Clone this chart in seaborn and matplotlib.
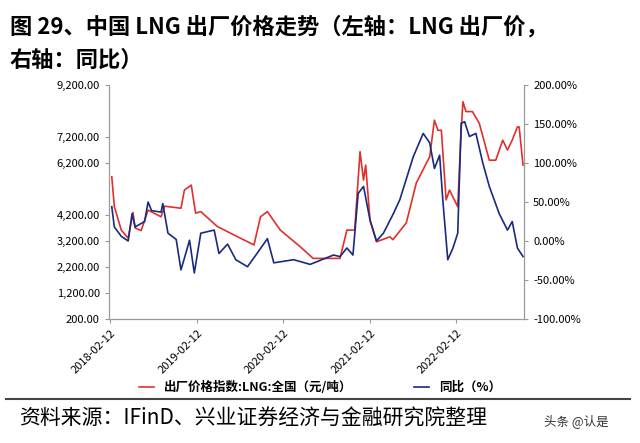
import numpy as np
import pandas as pd
import seaborn as sns
import matplotlib.pyplot as plt
import matplotlib.dates as mdates
from matplotlib.ticker import FuncFormatter

plt.rcParams['font.family'] = ['Noto Sans CJK SC', 'DejaVu Sans']

# LNG ex-factory price (yuan/ton), x in fractional years
price_t = [2018.13, 2018.16, 2018.24, 2018.32, 2018.375, 2018.40, 2018.47, 2018.55, 2018.70, 2018.74,
           2018.93, 2018.97, 2019.05, 2019.10, 2019.16, 2019.35, 2019.545, 2019.775, 2019.85, 2019.93,
           2020.08, 2020.31, 2020.46, 2020.77, 2020.85, 2020.94, 2021.0, 2021.04, 2021.065, 2021.115,
           2021.19, 2021.345, 2021.38, 2021.535, 2021.65, 2021.805, 2021.86, 2021.90, 2021.94, 2021.995,
           2022.035, 2022.13, 2022.17, 2022.19, 2022.225, 2022.30, 2022.38, 2022.495, 2022.57, 2022.65,
           2022.705, 2022.76, 2022.82, 2022.84, 2022.885]
price = [5673, 4520, 3620, 3310, 4300, 3700, 3600, 4390, 4130, 4540,
         4460, 5160, 5350, 4270, 4330, 3760, 3430, 3050, 4130, 4330,
         3620, 2980, 2530, 2530, 3620, 3620, 6640, 5540, 6120, 4000,
         3170, 3360, 3250, 3900, 5430, 6440, 7850, 7460, 7460, 4780,
         5160, 4520, 7460, 8560, 8180, 8180, 7720, 6310, 6310, 7080,
         6700, 7080, 7590, 7590, 6120]

# year-on-year change (%)
yoy_t = [2018.13, 2018.16, 2018.24, 2018.32, 2018.365, 2018.40, 2018.51, 2018.55, 2018.59, 2018.70,
         2018.72, 2018.78, 2018.875, 2018.93, 2018.97, 2019.03, 2019.085, 2019.16, 2019.315, 2019.37,
         2019.47, 2019.565, 2019.70, 2019.81, 2019.93, 2020.005, 2020.235, 2020.425, 2020.695, 2020.77,
         2020.85, 2020.92, 2020.98, 2021.04, 2021.115, 2021.19, 2021.27, 2021.385, 2021.46, 2021.615,
         2021.73, 2021.805, 2021.86, 2021.92, 2021.96, 2022.015, 2022.075, 2022.13, 2022.17, 2022.21,
         2022.265, 2022.34, 2022.42, 2022.495, 2022.61, 2022.705, 2022.76, 2022.82, 2022.885]
yoy = [44, 18, 6, 0, 35, 18, 25, 50, 39, 37,
       48, 10, 2, -37, -22, 1, -41, 10, 14, -16,
       -4, -24, -33, -16, 3, -28, -24, -30, -18, -20,
       -9, -18, 61, 70, 27, 0, 10, 35, 53, 108,
       138, 126, 93, 110, 48, -24, -9, 10, 151, 153,
       134, 138, 100, 70, 35, 14, 25, -9, -20]

left_ticks = [200, 1200, 2200, 3200, 4200, 6200, 7200, 9200]
right_ticks = [-100, -50, 0, 50, 100, 150, 200]
date_ticks = ['2018-02-12', '2019-02-12', '2020-02-12', '2021-02-12', '2022-02-12']


def to_date(ts):
    ts = np.asarray(ts)
    yr = np.floor(ts).astype(int)
    return [pd.Timestamp(f'{y}-01-01') + pd.Timedelta(days=float((t - y) * 365.25)) for y, t in zip(yr, ts)]


df_p = pd.DataFrame({'date': to_date(price_t), 'v': price})
df_y = pd.DataFrame({'date': to_date(yoy_t), 'v': yoy})

red = '#e0302c'
navy = '#1a2a80'

fig = plt.figure(figsize=(6.4, 4.43), dpi=100)
ax = fig.add_axes([0.170, 0.280, 0.649, 0.528])
ax2 = ax.twinx()
sns.lineplot(data=df_p, x='date', y='v', ax=ax, color=red, lw=1.2, label='出厂价格指数:LNG:全国（元/吨）', legend=False)
sns.lineplot(data=df_y, x='date', y='v', ax=ax2, color=navy, lw=1.2, label='同比（%）', legend=False)

ax.set_ylim(200, 9200)
ax.set_yticks(left_ticks)
ax.yaxis.set_major_formatter(FuncFormatter(lambda v, p: f'{v:,.2f}'))
ax2.set_ylim(-100, 200)
ax2.set_yticks(right_ticks)
ax2.yaxis.set_major_formatter(FuncFormatter(lambda v, p: f'{v:.2f}%'))
ax.set_xlim(pd.Timestamp('2018-02-05'), pd.Timestamp('2022-11-25'))
ax.set_xticks(pd.to_datetime(date_ticks))
ax.xaxis.set_major_formatter(mdates.DateFormatter('%Y-%m-%d'))
for a in (ax, ax2):
    a.set_xlabel('')
    a.set_ylabel('')
    a.spines['top'].set_visible(False)
    for s in a.spines.values():
        s.set_color('#999999')
    a.tick_params(labelsize=8, color='#999999', length=3)
ax.tick_params(axis='x', rotation=45)
for lab in ax.get_xticklabels():
    lab.set_ha('right')
    lab.set_rotation_mode('anchor')

h1, l1 = ax.get_legend_handles_labels()
h2, l2 = ax2.get_legend_handles_labels()
fig.legend(h1 + h2, l1 + l2, loc='center', bbox_to_anchor=(0.5, 0.125), ncol=2, frameon=False,
           handlelength=1.2, columnspacing=5, prop={'weight': 'bold', 'size': 9})

fig.text(0.015, 0.965, '图 29、中国 LNG 出厂价格走势（左轴：LNG 出厂价，', fontsize=16, fontweight='bold', va='top')
fig.text(0.015, 0.89, '右轴：同比）', fontsize=16, fontweight='bold', va='top')
fig.add_artist(plt.Line2D([0.01, 0.985], [0.100, 0.100], color='#444444', lw=1.5))
fig.text(0.03, 0.055, '资料来源：IFinD、兴业证券经济与金融研究院整理', fontsize=15, va='center')
fig.text(0.85, 0.05, '头条 @认是', fontsize=9, va='center', color='#333333')

fig.savefig('out.png', dpi=100)
